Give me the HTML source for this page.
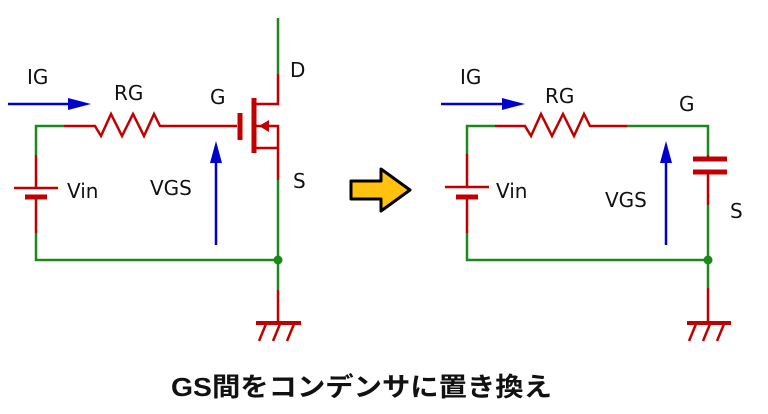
<!DOCTYPE html>
<html><head><style>html,body{margin:0;padding:0;background:#fff}svg{display:block}</style></head><body>
<svg width="768" height="414" viewBox="0 0 768 414" xmlns="http://www.w3.org/2000/svg" font-family="'DejaVu Sans','Liberation Sans',sans-serif">
<g fill="none" stroke-width="2.5">
<g stroke="#1a8a1a">
<path d="M64 126H36V155"/><path d="M36 233V260H278"/><path d="M278 18V74"/><path d="M278 180V290"/>
</g>
<g stroke="#c00000">
<path d="M64 126H95L101 136L111 114L122 136L133 114L144 136L154 114L160 126H237"/>
<path d="M36 155V188M36 197V233"/>
<path d="M14 188H58"/><path d="M25 197H47" stroke-width="5"/>
<path d="M240 113V140" stroke-width="5"/><path d="M254 98V153" stroke-width="5"/>
<path d="M254 104H278V74"/><path d="M254 126H278V180"/><path d="M254 148H278"/>
<path d="M278 290V323"/><path d="M256 323H301" stroke-width="4"/>
<path d="M266 324L259 341M280 324L273 341M294 324L287 341"/>
</g>
<polygon points="259,126 269,120 269,132" fill="#c00000" stroke="none"/>
<circle cx="278" cy="260" r="4.5" fill="#1a8a1a" stroke="none"/>
<g stroke="#1a8a1a">
<path d="M495 126H467V154"/><path d="M467 233V260H708"/><path d="M627 126H708V155"/><path d="M708 205V288"/>
</g>
<g stroke="#c00000">
<path d="M495 126H525L531 136L541 114L552 136L563 114L574 136L584 114L590 126H627"/>
<path d="M467 154V187M467 197V233"/>
<path d="M445 187H489"/><path d="M456 197H478" stroke-width="5"/>
<path d="M708 155V159M708 172V205"/><path d="M693 159H727M693 172H727" stroke-width="5"/>
<path d="M708 288V323"/><path d="M687 323H731" stroke-width="4"/>
<path d="M696 324L689 341M710 324L703 341M724 324L717 341"/>
</g>
<circle cx="708" cy="260" r="4.5" fill="#1a8a1a" stroke="none"/>
<g stroke="#0000cc">
<path d="M8 104H70"/><path d="M216 245V160"/><path d="M441 104H505"/><path d="M666 245V160"/>
</g>
</g>
<g fill="#0000cc">
<polygon points="68,98 91,104 68,110"/><polygon points="210,163 216,141 222,163"/>
<polygon points="502,98 525,104 502,110"/><polygon points="660,163 666,141 672,163"/>
</g>
<polygon points="351,181 381,181 381,169 410,190 381,211 381,199 351,199" fill="#ffc20e" stroke="#000" stroke-width="3" stroke-linejoin="round"/>
<g fill="#111" font-size="20">
<text x="27" y="84">IG</text><text x="114" y="100">RG</text><text x="210" y="104">G</text>
<text x="290" y="77">D</text><text x="293" y="188">S</text><text x="67" y="198">Vin</text><text x="150" y="195">VGS</text>
<text x="460" y="84">IG</text><text x="545" y="103">RG</text><text x="679" y="111">G</text>
<text x="496" y="198">Vin</text><text x="605" y="207">VGS</text><text x="730" y="218">S</text>
</g>
<text x="171" y="396" font-size="26" font-weight="bold" fill="#111" textLength="381" lengthAdjust="spacingAndGlyphs" font-family="'Liberation Sans','Noto Sans CJK JP',sans-serif">GS間をコンデンサに置き換え</text>
</svg>
</body></html>
